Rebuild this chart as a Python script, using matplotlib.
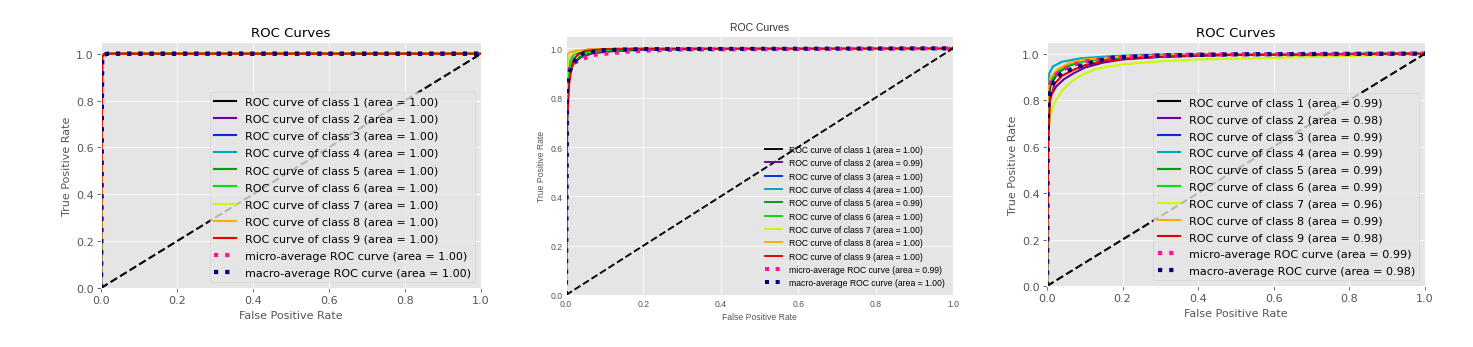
import matplotlib
matplotlib.use("Agg")
import matplotlib.pyplot as plt
from matplotlib import cm

plt.style.use("ggplot")

DPI = 76
W, H = 1473, 348

class_names = ["1", "2", "3", "4", "5", "6", "7", "8", "9"]
x_ticks = [0.0, 0.2, 0.4, 0.6, 0.8, 1.0]
y_ticks = [0.0, 0.2, 0.4, 0.6, 0.8, 1.0]

# ---------------- Panel 1 (left) ----------------
p1_area = [1.00, 1.00, 1.00, 1.00, 1.00, 1.00, 1.00, 1.00, 1.00]
p1_micro_area = 1.00
p1_macro_area = 1.00
p1_fpr = [
    [0, 0.003, 0.008, 0.02, 1.0],
    [0, 0.003, 0.009, 0.02, 1.0],
    [0, 0.003, 0.008, 0.02, 1.0],
    [0, 0.002, 0.007, 0.02, 1.0],
    [0, 0.003, 0.009, 0.02, 1.0],
    [0, 0.003, 0.008, 0.02, 1.0],
    [0, 0.004, 0.010, 0.02, 1.0],
    [0, 0.003, 0.008, 0.02, 1.0],
    [0, 0.003, 0.008, 0.02, 1.0],
]
p1_tpr = [
    [0, 0.985, 0.997, 1.0, 1.0],
    [0, 0.984, 0.996, 1.0, 1.0],
    [0, 0.986, 0.997, 1.0, 1.0],
    [0, 0.988, 0.998, 1.0, 1.0],
    [0, 0.984, 0.996, 1.0, 1.0],
    [0, 0.986, 0.997, 1.0, 1.0],
    [0, 0.982, 0.995, 1.0, 1.0],
    [0, 0.986, 0.997, 1.0, 1.0],
    [0, 0.987, 0.997, 1.0, 1.0],
]
p1_micro_fpr = [0, 0.003, 0.008, 0.02, 1.0]
p1_micro_tpr = [0, 0.986, 0.997, 1.0, 1.0]
p1_macro_fpr = [0, 0.003, 0.008, 0.02, 1.0]
p1_macro_tpr = [0, 0.986, 0.997, 1.0, 1.0]

# ---------------- Panel 2 (middle) ----------------
p2_area = [1.00, 0.99, 1.00, 1.00, 0.99, 1.00, 1.00, 1.00, 1.00]
p2_micro_area = 0.99
p2_macro_area = 1.00
p2_fpr = [
    [0, 0.002, 0.005, 0.01, 0.02, 0.04, 0.06, 0.1, 0.2, 1.0],
    [0, 0.003, 0.01, 0.02, 0.04, 0.07, 0.12, 0.2, 0.4, 1.0],
    [0, 0.002, 0.005, 0.01, 0.02, 0.04, 0.06, 0.1, 0.2, 1.0],
    [0, 0.003, 0.01, 0.02, 0.04, 0.08, 0.2, 1.0],
    [0, 0.004, 0.01, 0.02, 0.035, 0.06, 0.1, 0.2, 1.0],
    [0, 0.003, 0.01, 0.02, 0.04, 0.07, 0.15, 1.0],
    [0, 0.002, 0.006, 0.015, 0.03, 0.06, 0.15, 1.0],
    [0, 0.001, 0.004, 0.01, 0.03, 0.06, 0.15, 1.0],
    [0, 0.003, 0.008, 0.015, 0.02, 0.03, 0.05, 0.1, 1.0],
]
p2_tpr = [
    [0, 0.85, 0.93, 0.96, 0.98, 0.99, 0.995, 0.997, 0.999, 1.0],
    [0, 0.82, 0.90, 0.94, 0.965, 0.98, 0.988, 0.994, 0.998, 1.0],
    [0, 0.86, 0.93, 0.96, 0.98, 0.99, 0.995, 0.997, 0.999, 1.0],
    [0, 0.90, 0.95, 0.975, 0.988, 0.995, 0.999, 1.0],
    [0, 0.80, 0.90, 0.94, 0.965, 0.98, 0.99, 0.996, 1.0],
    [0, 0.85, 0.93, 0.96, 0.98, 0.99, 0.997, 1.0],
    [0, 0.88, 0.95, 0.975, 0.988, 0.995, 0.999, 1.0],
    [0, 0.93, 0.975, 0.985, 0.992, 0.996, 0.999, 1.0],
    [0, 0.70, 0.85, 0.93, 0.955, 0.975, 0.99, 0.997, 1.0],
]
p2_micro_fpr = [0, 0.002, 0.005, 0.01, 0.02, 0.036, 0.071, 0.114, 0.157, 0.2, 0.3, 1.0]
p2_micro_tpr = [0, 0.80, 0.88, 0.92, 0.94, 0.953, 0.973, 0.98, 0.986, 0.99, 0.995, 1.0]
p2_macro_fpr = [0, 0.003, 0.008, 0.015, 0.03, 0.045, 0.1, 0.2, 1.0]
p2_macro_tpr = [0, 0.85, 0.90, 0.925, 0.965, 0.98, 0.993, 0.997, 1.0]

# ---------------- Panel 3 (right) ----------------
p3_area = [0.99, 0.98, 0.99, 0.99, 0.99, 0.99, 0.96, 0.99, 0.98]
p3_micro_area = 0.99
p3_macro_area = 0.98
p3_fpr = [
    [0, 0.002, 0.01, 0.03, 0.06, 0.1, 0.2, 0.4, 1.0],
    [0, 0.003, 0.01, 0.025, 0.045, 0.07, 0.1, 0.15, 0.2, 0.3, 0.5, 1.0],
    [0, 0.002, 0.01, 0.03, 0.06, 0.1, 0.2, 0.4, 1.0],
    [0, 0.002, 0.006, 0.016, 0.04, 0.09, 0.18, 0.3, 1.0],
    [0, 0.002, 0.01, 0.03, 0.06, 0.1, 0.2, 0.4, 1.0],
    [0, 0.002, 0.01, 0.03, 0.06, 0.1, 0.2, 0.4, 1.0],
    [0, 0.002, 0.008, 0.02, 0.042, 0.065, 0.087, 0.131, 0.2, 0.3, 0.4, 0.6, 0.8, 1.0],
    [0, 0.002, 0.01, 0.03, 0.06, 0.1, 0.2, 0.4, 1.0],
    [0, 0.003, 0.008, 0.02, 0.04, 0.07, 0.1, 0.15, 0.25, 0.4, 1.0],
]
p3_tpr = [
    [0, 0.80, 0.87, 0.92, 0.95, 0.97, 0.985, 0.995, 1.0],
    [0, 0.75, 0.82, 0.86, 0.89, 0.915, 0.94, 0.962, 0.975, 0.986, 0.995, 1.0],
    [0, 0.82, 0.88, 0.925, 0.955, 0.972, 0.987, 0.995, 1.0],
    [0, 0.87, 0.915, 0.945, 0.965, 0.98, 0.99, 0.996, 1.0],
    [0, 0.83, 0.88, 0.92, 0.95, 0.968, 0.985, 0.995, 1.0],
    [0, 0.84, 0.89, 0.93, 0.955, 0.97, 0.986, 0.995, 1.0],
    [0, 0.62, 0.73, 0.79, 0.846, 0.88, 0.904, 0.935, 0.954, 0.967, 0.975, 0.982, 0.99, 1.0],
    [0, 0.85, 0.90, 0.935, 0.96, 0.975, 0.988, 0.996, 1.0],
    [0, 0.60, 0.80, 0.87, 0.905, 0.93, 0.95, 0.968, 0.983, 0.993, 1.0],
]
p3_micro_fpr = [0, 0.002, 0.008, 0.02, 0.04, 0.07, 0.1, 0.15, 0.25, 0.4, 1.0]
p3_micro_tpr = [0, 0.80, 0.87, 0.905, 0.93, 0.952, 0.966, 0.978, 0.99, 0.996, 1.0]
p3_macro_fpr = [0, 0.002, 0.007, 0.02, 0.042, 0.087, 0.13, 0.175, 0.3, 0.5, 1.0]
p3_macro_tpr = [0, 0.75, 0.83, 0.89, 0.92, 0.946, 0.968, 0.983, 0.992, 0.997, 1.0]


def px_axes(fig, left, right, top, bottom):
    return fig.add_axes([left / W, 1 - bottom / H, (right - left) / W, (bottom - top) / H])


def draw_panel(ax, fprs, tprs, areas, mfpr, mtpr, marea, Mfpr, Mtpr, Marea,
               family, fs, tfs, lw, dlw, legend_frame, tick_len, tick_color,
               title_color, label_color, labelspacing):
    ax.set_title("ROC Curves", fontsize=tfs, family=family, color=title_color)
    n = len(class_names)
    for i, name in enumerate(class_names):
        color = cm.nipy_spectral(float(i) / n)
        ax.plot(fprs[i], tprs[i], lw=lw, color=color,
                label="ROC curve of class {0} (area = {1:0.2f})".format(name, areas[i]))
    ax.plot(mfpr, mtpr, label="micro-average ROC curve (area = {0:0.2f})".format(marea),
            color="deeppink", linestyle=":", linewidth=dlw)
    ax.plot(Mfpr, Mtpr, label="macro-average ROC curve (area = {0:0.2f})".format(Marea),
            color="navy", linestyle=":", linewidth=dlw)
    ax.plot([0, 1], [0, 1], "k--", lw=lw)
    ax.set_xlim([0.0, 1.0])
    ax.set_ylim([0.0, 1.05])
    ax.set_xticks(x_ticks)
    ax.set_yticks(y_ticks)
    ax.set_xlabel("False Positive Rate", fontsize=fs, family=family, color=label_color)
    ax.set_ylabel("True Positive Rate", fontsize=fs, family=family, color=label_color)
    ax.tick_params(labelsize=fs, length=tick_len, colors=tick_color)
    for lab in ax.get_xticklabels() + ax.get_yticklabels():
        lab.set_family(family)
    leg = ax.legend(loc="lower right", prop={"family": family, "size": fs},
                    frameon=legend_frame, labelspacing=labelspacing)
    return leg


fig = plt.figure(figsize=(W / DPI, H / DPI), dpi=DPI)
fig.patch.set_facecolor("white")

ax1 = px_axes(fig, 101, 481, 43, 289)
draw_panel(ax1, p1_fpr, p1_tpr, p1_area, p1_micro_fpr, p1_micro_tpr, p1_micro_area,
           p1_macro_fpr, p1_macro_tpr, p1_macro_area,
           "DejaVu Sans", 10.5, 12.6, 2, 4, True, 3.5, "#555555", "black", "#555555", 0.645)

ax2 = px_axes(fig, 566, 953, 37, 296)
draw_panel(ax2, p2_fpr, p2_tpr, p2_area, p2_micro_fpr, p2_micro_tpr, p2_micro_area,
           p2_macro_fpr, p2_macro_tpr, p2_macro_area,
           "Liberation Sans", 8.2, 9.8, 1.8, 3.8, False, 0, "#555555", "#333333", "#555555", 0.5)

ax3 = px_axes(fig, 1047, 1425, 43, 287)
draw_panel(ax3, p3_fpr, p3_tpr, p3_area, p3_micro_fpr, p3_micro_tpr, p3_micro_area,
           p3_macro_fpr, p3_macro_tpr, p3_macro_area,
           "DejaVu Sans", 10.5, 12.6, 2, 4, True, 3.5, "#555555", "black", "#555555", 0.62)

fig.savefig("out.png", dpi=DPI, facecolor="white")
